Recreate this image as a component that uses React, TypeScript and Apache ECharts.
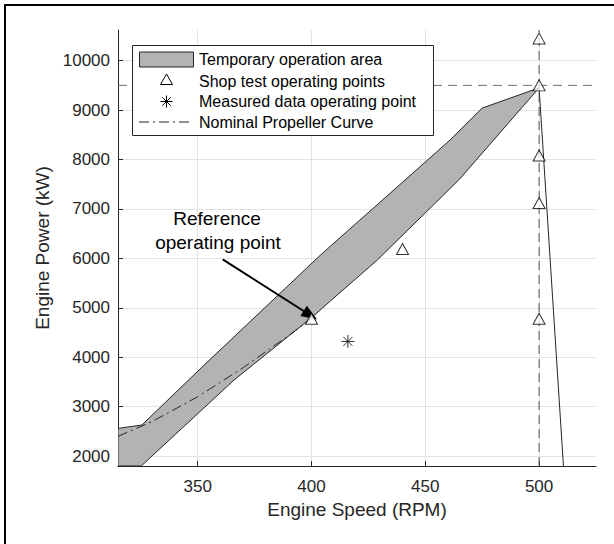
import React, { useEffect, useRef } from "react";
import * as echarts from "echarts";

// ---- Data ----
const xTicks = [350, 400, 450, 500];
const yTicks = [2000, 3000, 4000, 5000, 6000, 7000, 8000, 9000, 10000];

// Temporary operation area: upper boundary (left to right), then lower boundary (right to left)
const upperRpm = [315, 325.5, 351, 404, 452, 461, 475, 500];
const upperKw = [2560, 2630, 3760, 6070, 8030, 8400, 9040, 9450];
const lowerRpm = [465, 429, 408, 400, 366, 325.2, 315];
const lowerKw = [7600, 5970, 5125, 4800, 3540, 1800, 1800];

// Limit line from the upper corner down to the axis
const limitRpm = [500, 510.7];
const limitKw = [9450, 1800];

// Shop test operating points
const shopRpm = [400, 440, 500, 500, 500, 500, 500];
const shopKw = [4780, 6190, 10450, 9500, 8080, 7120, 4780];

// Measured data operating point
const measRpm = [416];
const measKw = [4320];

// Nominal propeller curve
const propRpm = [315, 330, 350, 370, 390, 400];
const propKw = [2400, 2700, 3200, 3790, 4440, 4780];

// Reference lines
const mcrRpm = 500;
const mcrKw = 9500;

// Annotation arrow (tail -> head)
const arrowRpm = [361, 399.5];
const arrowKw = [5980, 4850];

const X_MIN = 315;
const X_MAX = 525;
const Y_MIN = 1800;
const Y_MAX = 10620;

const FONT = "'Liberation Sans', Arial, Helvetica, sans-serif";
const INK = "#262626";

export default function App() {
  const ref = useRef<HTMLDivElement>(null);

  useEffect(() => {
    document.body.style.margin = "0";
    if (!ref.current) return;
    const chart = echarts.init(ref.current, undefined, { renderer: "svg" });

    const bandRpm = [...upperRpm, ...lowerRpm];
    const bandKw = [...upperKw, ...lowerKw];

    const zip = (a: number[], b: number[]) => a.map((v, i) => [v, b[i]]);

    const legendRows = [59.5, 81, 101.5, 122];
    const legendX = 132;
    const legendY = 45;

    const option: any = {
      animation: false,
      backgroundColor: "#ffffff",
      grid: { left: 118, top: 30, width: 478, height: 436, containLabel: false },
      xAxis: {
        type: "value",
        min: X_MIN,
        max: X_MAX,
        name: "Engine Speed (RPM)",
        nameLocation: "middle",
        nameGap: 33,
        nameTextStyle: { fontSize: 19, color: INK, fontFamily: FONT },
        axisLine: { show: true, onZero: false, lineStyle: { color: INK, width: 1 } },
        axisTick: { show: true, inside: true, length: 5, customValues: xTicks, lineStyle: { color: INK } },
        axisLabel: {
          customValues: xTicks,
          margin: 12,
          fontSize: 17,
          color: INK,
          fontFamily: FONT,
          formatter: (v: number) => String(v),
        },
        splitLine: { show: true, lineStyle: { color: "#e3e3e3", width: 1 } },
      },
      yAxis: {
        type: "value",
        min: Y_MIN,
        max: Y_MAX,
        name: "Engine Power (kW)",
        nameLocation: "middle",
        nameGap: 65,
        nameTextStyle: { fontSize: 19, color: INK, fontFamily: FONT },
        axisLine: { show: true, onZero: false, lineStyle: { color: INK, width: 1 } },
        axisTick: { show: true, inside: true, length: 5, customValues: yTicks, lineStyle: { color: INK } },
        axisLabel: {
          customValues: yTicks,
          margin: 8,
          fontSize: 17,
          color: INK,
          fontFamily: FONT,
          formatter: (v: number) => String(v),
        },
        splitLine: { show: true, lineStyle: { color: "#e3e3e3", width: 1 } },
      },
      series: [
        {
          type: "custom",
          name: "Temporary operation area",
          data: [[bandRpm[0], bandKw[0]]],
          z: 2,
          clip: true,
          renderItem: (_params: any, api: any) => {
            const pts = bandRpm.map((r, i) => api.coord([r, bandKw[i]]));
            return {
              type: "polygon",
              shape: { points: pts },
              style: { fill: "#b3b3b3", stroke: INK, lineWidth: 1 },
            };
          },
        },
        {
          type: "line",
          name: "limit",
          data: zip(limitRpm, limitKw),
          symbol: "none",
          z: 3,
          lineStyle: { color: INK, width: 1 },
        },
        {
          type: "line",
          name: "hline",
          data: [[X_MIN, mcrKw], [X_MAX, mcrKw]],
          symbol: "none",
          z: 3,
          lineStyle: { color: "#707070", width: 1, type: [9, 6] },
        },
        {
          type: "line",
          name: "vline",
          data: [[mcrRpm, Y_MIN], [mcrRpm, Y_MAX]],
          symbol: "none",
          z: 3,
          lineStyle: { color: "#505050", width: 1, type: [9, 5] },
        },
        {
          type: "line",
          name: "Nominal Propeller Curve",
          data: zip(propRpm, propKw),
          symbol: "none",
          smooth: false,
          z: 4,
          lineStyle: { color: INK, width: 1, type: [10, 4, 2, 4] },
        },
        {
          type: "line",
          name: "arrow",
          data: [],
          symbol: "none",
          z: 6,
          markLine: {
            silent: true,
            symbol: ["none", "triangle"],
            symbolSize: [12, 16],
            label: { show: false },
            lineStyle: { color: "#000000", width: 2, type: "solid" },
            itemStyle: { color: "#000000" },
            data: [
              [
                { coord: [arrowRpm[0], arrowKw[0]] },
                { coord: [arrowRpm[1], arrowKw[1]] },
              ],
            ],
          },
        },
        {
          type: "scatter",
          name: "Shop test operating points",
          data: zip(shopRpm, shopKw),
          symbol: "triangle",
          symbolSize: [12, 11],
          z: 7,
          itemStyle: { color: "#ffffff", borderColor: "#000000", borderWidth: 1 },
        },
        {
          type: "scatter",
          name: "Measured data operating point",
          data: zip(measRpm, measKw),
          symbol: "path://M0,-6L0,6M-6,0L6,0M-4.24,-4.24L4.24,4.24M-4.24,4.24L4.24,-4.24",
          symbolSize: 13,
          z: 7,
          itemStyle: { color: "none", borderColor: "#000000", borderWidth: 1 },
        },
      ],
      graphic: [
        // outer frame (left and top visible in the reference)
        { type: "line", z: 200, shape: { x1: 5, y1: 4, x2: 5, y2: 544 }, style: { stroke: "#000", lineWidth: 2 } },
        { type: "line", z: 200, shape: { x1: 4, y1: 5, x2: 614, y2: 5 }, style: { stroke: "#000", lineWidth: 2 } },
        {
          type: "group",
          z: 100,
          children: [
            {
              type: "rect",
              shape: { x: legendX + 0.5, y: legendY + 0.5, width: 301, height: 90 },
              style: { fill: "#ffffff", stroke: INK, lineWidth: 1 },
              z: 100,
            },
            {
              type: "rect",
              shape: { x: 139.5, y: legendRows[0] - 7.5, width: 54, height: 15 },
              style: { fill: "#b3b3b3", stroke: INK, lineWidth: 1 },
              z: 101,
            },
            {
              type: "polygon",
              shape: { points: [[166.5, legendRows[1] - 7], [172.5, legendRows[1] + 3.5], [160.5, legendRows[1] + 3.5]] },
              style: { fill: "#ffffff", stroke: "#000", lineWidth: 1 },
              z: 101,
            },
            { type: "line", z: 101, shape: { x1: 166.5, y1: legendRows[2] - 6, x2: 166.5, y2: legendRows[2] + 6 }, style: { stroke: "#000", lineWidth: 1 } },
            { type: "line", z: 101, shape: { x1: 160.5, y1: legendRows[2], x2: 172.5, y2: legendRows[2] }, style: { stroke: "#000", lineWidth: 1 } },
            { type: "line", z: 101, shape: { x1: 162.3, y1: legendRows[2] - 4.2, x2: 170.7, y2: legendRows[2] + 4.2 }, style: { stroke: "#000", lineWidth: 1 } },
            { type: "line", z: 101, shape: { x1: 162.3, y1: legendRows[2] + 4.2, x2: 170.7, y2: legendRows[2] - 4.2 }, style: { stroke: "#000", lineWidth: 1 } },
            {
              type: "line",
              z: 101,
              shape: { x1: 139, y1: legendRows[3], x2: 193, y2: legendRows[3] },
              style: { stroke: INK, lineWidth: 1, lineDash: [10, 4, 2, 4] },
            },
            ...[
              "Temporary operation area",
              "Shop test operating points",
              "Measured data operating point",
              "Nominal Propeller Curve",
            ].map((t, i) => ({
              type: "text",
              z: 102,
              x: 199,
              y: legendRows[i],
              style: {
                text: t,
                fontSize: 16,
                fontFamily: FONT,
                fill: "#000",
                textAlign: "left",
                verticalAlign: "middle",
              },
            })),
          ],
        },
        {
          type: "text",
          z: 50,
          x: 217,
          y: 218,
          style: {
            text: "Reference",
            fontSize: 19,
            fontFamily: FONT,
            fill: "#000",
            textAlign: "center",
            verticalAlign: "middle",
          },
        },
        {
          type: "text",
          z: 50,
          x: 218,
          y: 242,
          style: {
            text: "operating point",
            fontSize: 19,
            fontFamily: FONT,
            fill: "#000",
            textAlign: "center",
            verticalAlign: "middle",
          },
        },
      ],
    };

    chart.setOption(option);
    return () => chart.dispose();
  }, []);

  return <div ref={ref} style={{ width: 614, height: 544 }} />;
}
